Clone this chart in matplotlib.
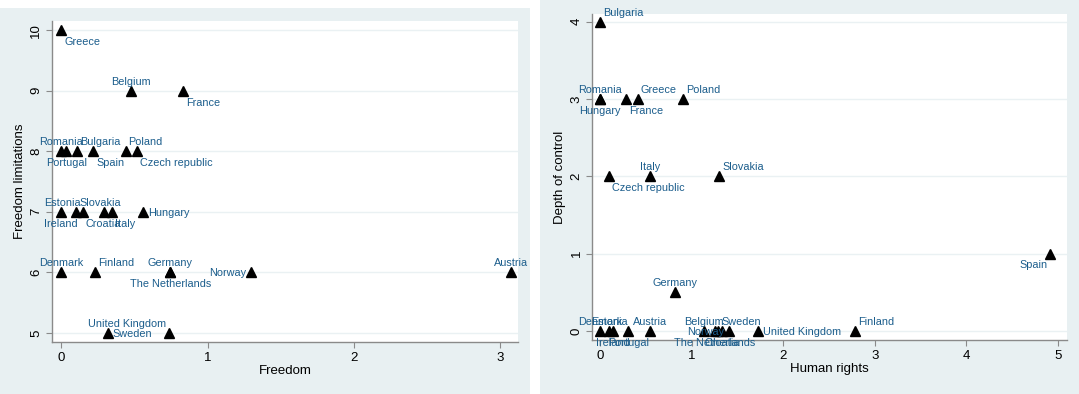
import matplotlib
matplotlib.use('Agg')
import matplotlib.pyplot as plt
from matplotlib.patches import Rectangle

plt.rcParams['font.family'] = ['Liberation Sans', 'DejaVu Sans']

# left panel: Freedom vs Freedom limitations
left_countries = ['Greece', 'Belgium', 'France', 'Romania', 'Portugal', 'Bulgaria', 'Spain',
                  'Poland', 'Czech republic', 'Ireland', 'Slovakia', 'Estonia', 'Croatia',
                  'Italy', 'Hungary', 'Denmark', 'Finland', 'Germany', 'The Netherlands',
                  'Norway', 'Austria', 'Sweden', 'United Kingdom']
left_freedom = [0.0, 0.48, 0.83, 0.0, 0.035, 0.11, 0.22,
                0.44, 0.52, 0.0, 0.104, 0.153, 0.29,
                0.35, 0.56, 0.0, 0.233, 0.746, 0.746,
                1.30, 3.07, 0.32, 0.735]
left_limits = [10, 9, 9, 8, 8, 8, 8,
               8, 8, 7, 7, 7, 7,
               7, 7, 6, 6, 6, 6,
               6, 6, 5, 5]
# Stata-style clock positions of the marker labels
left_pos = [5, 12, 5, 12, 6, 1, 5,
            1, 5, 6, 1, 11, 6,
            5, 3, 12, 1, 12, 6,
            9, 12, 3, 11]

# right panel: Human rights vs Depth of control
right_countries = ['Bulgaria', 'Romania', 'Hungary', 'Greece', 'France', 'Poland',
                   'Czech republic', 'Italy', 'Slovakia', 'Spain', 'Germany',
                   'Denmark', 'Estonia', 'Ireland', 'Portugal', 'Austria', 'Belgium',
                   'The Netherlands', 'Sweden', 'Croatia', 'Norway', 'United Kingdom', 'Finland']
right_rights = [0.0, 0.0, 0.0, 0.409, 0.281, 0.908,
                0.092, 0.544, 1.30, 4.92, 0.82,
                0.0, 0.095, 0.135, 0.306, 0.543, 1.138,
                1.25, 1.29, 1.33, 1.41, 1.72, 2.78]
right_depth = [4, 3, 3, 3, 3, 3,
               2, 2, 2, 1, 0.5,
               0, 0, 0, 0, 0, 0,
               0, 0, 0, 0, 0, 0]
right_pos = [1, 12, 6, 1, 5, 1,
             5, 12, 1, 7, 12,
             12, 12, 6, 6, 12, 12,
             6, 1, 6, 9, 3, 1]

# offsets in pixels (dx, dy, ha) for each clock position
clock = {12: (0, 9, 'center'), 6: (0, -12, 'center'),
         1: (3, 9, 'left'), 5: (3, -12, 'left'),
         11: (-3, 9, 'right'), 7: (-3, -11, 'right'),
         3: (5, -1, 'left'), 9: (-5, -1, 'right')}

W, H = 1079, 394
fig = plt.figure(figsize=(W / 100, H / 100), dpi=100, facecolor='white')
bg = '#e8f0f2'
fig.patches.append(Rectangle((0, 0), 530 / W, (H - 8) / H, transform=fig.transFigure,
                             facecolor=bg, edgecolor='none', zorder=-5))
fig.patches.append(Rectangle((540 / W, 0), (W - 540) / W, 1, transform=fig.transFigure,
                             facecolor=bg, edgecolor='none', zorder=-5))

label_color = '#1b5d8c'
axis_gray = '#8a8a8a'


def panel(rect, x, y, names, pos, xlabel, ylabel, xlim, ylim, xticks, yticks):
    ax = fig.add_axes(rect)
    ax.set_zorder(2)
    ax.set_facecolor('white')
    for yt in yticks:
        ax.axhline(yt, color='#eaf1f3', lw=1, zorder=1)
    ax.plot(x, y, '^', color='black', ms=6.5, linestyle='none', zorder=3)
    for xi, yi, n, p in zip(x, y, names, pos):
        dx, dy, ha = clock[p]
        ax.annotate(n, (xi, yi), xytext=(dx, dy), textcoords='offset pixels',
                    ha=ha, va='center', fontsize=7.8, color=label_color,
                    annotation_clip=False, zorder=4)
    ax.set_xlim(*xlim)
    ax.set_ylim(*ylim)
    ax.set_xticks(xticks)
    ax.set_yticks(yticks)
    for s in ['top', 'right']:
        ax.spines[s].set_visible(False)
    for s in ['left', 'bottom']:
        ax.spines[s].set_color(axis_gray)
        ax.spines[s].set_linewidth(1)
    ax.tick_params(direction='out', length=4, color=axis_gray, labelsize=9.5, pad=3)
    for t in ax.get_yticklabels():
        t.set_rotation(90)
        t.set_va('center')
    ax.set_xlabel(xlabel, fontsize=9.5, labelpad=1)
    ax.set_ylabel(ylabel, fontsize=9.5, labelpad=3)
    return ax


panel([52 / W, 1 - 342 / H, (518 - 52) / W, (342 - 21) / H],
      left_freedom, left_limits, left_countries, left_pos,
      'Freedom', 'Freedom limitations', (-0.062, 3.12), (4.85, 10.15),
      [0, 1, 2, 3], [5, 6, 7, 8, 9, 10])

panel([592.3 / W, 1 - 340 / H, (1066.5 - 592.3) / W, (340 - 14) / H],
      right_rights, right_depth, right_countries, right_pos,
      'Human rights', 'Depth of control', (-0.0875, 5.095), (-0.117, 4.10),
      [0, 1, 2, 3, 4, 5], [0, 1, 2, 3, 4])

fig.savefig('out.png', dpi=100)
